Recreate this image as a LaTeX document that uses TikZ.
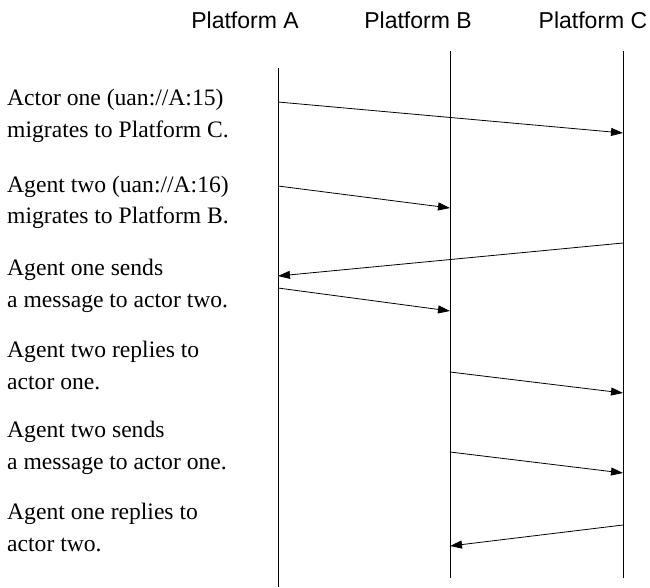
\documentclass[tikz,border=0pt]{standalone}
\usepackage{fontspec}
\setmainfont{Liberation Serif}
\newfontfamily\hdrfont{Liberation Sans}
\usetikzlibrary{arrows.meta}
\begin{document}
\begin{tikzpicture}[x=1pt,y=-1pt,
  lifeline/.style={line width=0.8pt},
  msg/.style={line width=0.8pt,-{Triangle[length=12pt,width=8pt]}},
  hdr/.style={font=\hdrfont\fontsize{23}{26}\selectfont,anchor=base},
  lbl/.style={font=\fontsize{23.6}{30}\selectfont,anchor=base west,inner sep=0pt}]
\useasboundingbox (0,0) rectangle (650,587);
% headers
\node[hdr] (hA) at (245,28) {Platform A};
\node[hdr] (hB) at (418,28) {Platform B};
\node[hdr] (hC) at (593,28) {Platform C};
% lifelines
\coordinate (At) at (278,68);  \coordinate (Ab) at (278,587);
\coordinate (Bt) at (450,51);  \coordinate (Bb) at (450,578);
\coordinate (Ct) at (623,51);  \coordinate (Cb) at (623,578);
\draw[lifeline] (At) -- (Ab);
\draw[lifeline] (Bt) -- (Bb);
\draw[lifeline] (Ct) -- (Cb);
% message endpoints
\coordinate (m1s) at (278,102); \coordinate (m1e) at (623,133);
\coordinate (m2s) at (278,186); \coordinate (m2e) at (450,208);
\coordinate (m3s) at (623,243); \coordinate (m3e) at (278,276);
\coordinate (m4s) at (278,288); \coordinate (m4e) at (450,311);
\coordinate (m5s) at (450,372); \coordinate (m5e) at (623,393);
\coordinate (m6s) at (450,452); \coordinate (m6e) at (623,473);
\coordinate (m7s) at (623,525); \coordinate (m7e) at (450,546);
\draw[msg] (m1s) -- (m1e);
\draw[msg] (m2s) -- (m2e);
\draw[msg] (m3s) -- (m3e);
\draw[msg] (m4s) -- (m4e);
\draw[msg] (m5s) -- (m5e);
\draw[msg] (m6s) -- (m6e);
\draw[msg] (m7s) -- (m7e);
% labels
\node[lbl] (l1a) at (7,105) {Actor one (uan://A:15)};
\node[lbl] (l1b) at (7,137) {migrates to Platform C.};
\node[lbl] (l2a) at (7,192) {Agent two (uan://A:16)};
\node[lbl] (l2b) at (7,223) {migrates to Platform B.};
\node[lbl] (l3a) at (7,275) {Agent one sends};
\node[lbl] (l3b) at (7,307) {a message to actor two.};
\node[lbl] (l4a) at (7,357) {Agent two replies to};
\node[lbl] (l4b) at (7,389) {actor one.};
\node[lbl] (l5a) at (7,437) {Agent two sends};
\node[lbl] (l5b) at (7,469) {a message to actor one.};
\node[lbl] (l6a) at (7,519) {Agent one replies to};
\node[lbl] (l6b) at (7,551) {actor two.};
\end{tikzpicture}
\end{document}
